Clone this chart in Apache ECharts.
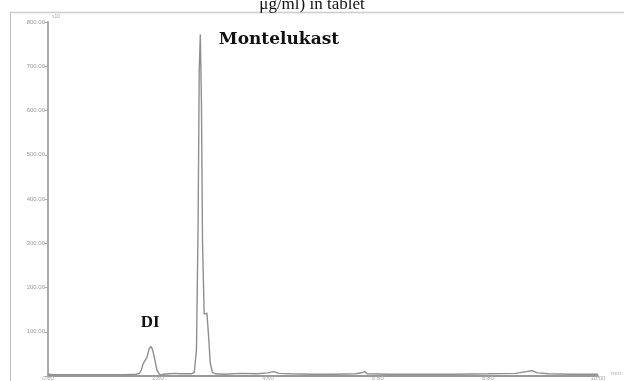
<!DOCTYPE html>
<html><head><meta charset="utf-8">
<script src="https://cdn.jsdelivr.net/npm/echarts@6/dist/echarts.min.js"></script>
<style>html,body{margin:0;padding:0;background:#fff}#c{width:624px;height:381px}</style>
</head><body><div id="c"></div>
<script>
const titleText = "μg/ml) in tablet";
const yTicks = [0,1,2,3,4,5,6,7,8];
const xTicks = [0,2,4,6,8,10];
const time = [0,0.1,0.5,1.0,1.4,1.6,1.66,1.7,1.73,1.76,1.8,1.84,1.87,1.9,1.94,1.98,2.02,2.06,2.1,2.2,2.3,2.4,2.5,2.6,2.66,2.7,2.73,2.75,2.77,2.79,2.81,2.84,2.87,2.89,2.92,2.95,2.99,3.05,3.2,3.5,3.8,4.0,4.1,4.2,4.4,4.8,5.2,5.6,5.72,5.76,5.8,6.2,6.8,7.4,8.0,8.5,8.7,8.8,8.9,9.1,9.5,9.9,10.0];
const signal = [0.04,0.03,0.03,0.03,0.03,0.04,0.06,0.14,0.28,0.26,0.42,0.62,0.67,0.6,0.38,0.14,0.05,0.02,0.04,0.05,0.06,0.05,0.05,0.05,0.08,0.6,3.5,6.9,7.72,6.2,3.0,1.4,1.4,1.42,0.9,0.3,0.08,0.05,0.04,0.06,0.05,0.07,0.1,0.06,0.05,0.04,0.04,0.05,0.08,0.1,0.05,0.04,0.04,0.04,0.05,0.06,0.1,0.12,0.07,0.05,0.04,0.04,0.04];
const peakNames = ["DI","Montelukast"];

const chart = echarts.init(document.getElementById('c'), null, {renderer:'canvas'});
chart.setOption({
  animation:false,
  backgroundColor:'#fff',
  title:{text:titleText,left:'center',top:-9,textStyle:{fontFamily:'Liberation Serif',fontSize:17,fontWeight:'normal',color:'#111'}},
  grid:{left:48,right:26,top:22,bottom:3,containLabel:false},
  xAxis:{type:'value',min:0,max:10,interval:2,
    axisLine:{lineStyle:{color:'#999',width:2}},
    axisTick:{show:true,length:2,lineStyle:{color:'#aaa'}},
    axisLabel:{fontSize:6,color:'#aaa',margin:-1,formatter:v=>v.toFixed(2)},
    splitLine:{show:false},
    name:'min',nameLocation:'end',nameGap:4,nameTextStyle:{fontSize:6,color:'#aaa',verticalAlign:'bottom'}},
  yAxis:{type:'value',min:0,max:8,interval:1,
    axisLine:{show:true,lineStyle:{color:'#aaa',width:2}},
    axisTick:{show:true,length:3,lineStyle:{color:'#aaa'}},
    axisLabel:{fontSize:6,color:'#999',margin:3,formatter:v=>v===0?'':(v*100).toFixed(2)},
    splitLine:{show:false}},
  graphic:[
    {type:'line',shape:{x1:10.5,y1:12,x2:10.5,y2:381},style:{stroke:'#bbb',lineWidth:1}},
    {type:'line',shape:{x1:10,y1:12.5,x2:624,y2:12.5},style:{stroke:'#ccc',lineWidth:1.5}},
    {type:'text',left:52,top:14,style:{text:'x10',fontSize:5,fill:'#aaa'}}
  ],
  series:[{
    type:'line',showSymbol:false,
    data:time.map((t,i)=>[t,signal[i]]),
    lineStyle:{color:'#8f8f8f',width:1.4},
    markPoint:{symbol:'rect',symbolSize:1,itemStyle:{color:'transparent'},
      data:[
        {coord:[1.86,1.21],value:peakNames[0],label:{show:true,formatter:peakNames[0],fontFamily:'Liberation Serif',fontWeight:'bold',fontSize:17,color:'#111'}},
        {coord:[4.2,7.6],value:peakNames[1],label:{show:true,formatter:peakNames[1],fontFamily:'DejaVu Serif',fontWeight:'bold',fontSize:17,color:'#111'}}
      ]}
  }]
});
</script></body></html>
